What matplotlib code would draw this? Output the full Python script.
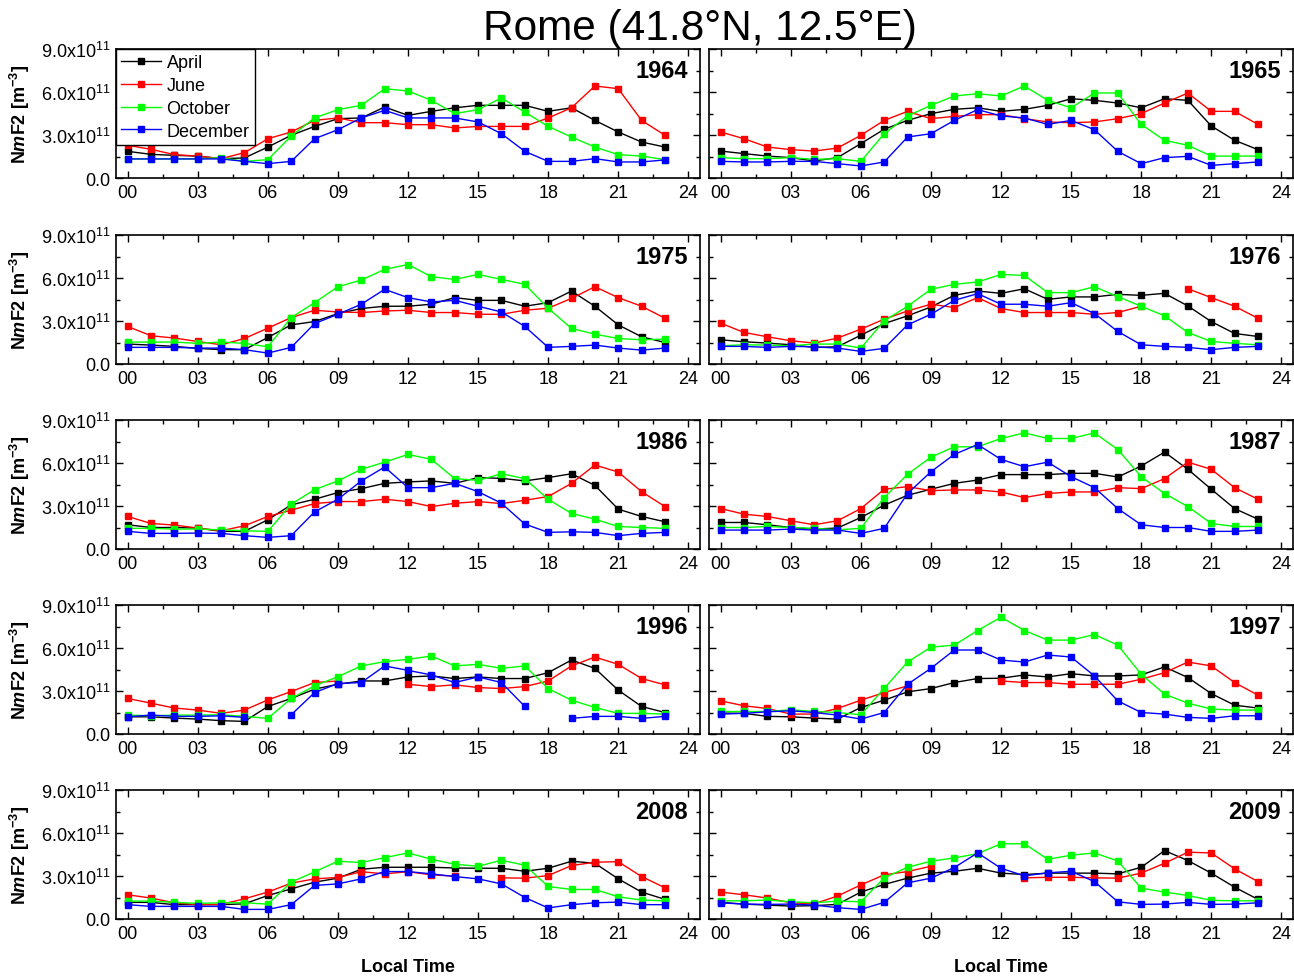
import numpy as np
import matplotlib
matplotlib.use('Agg')
import matplotlib.pyplot as plt
from matplotlib.ticker import MultipleLocator, FixedLocator

plt.rcParams['font.family'] = ['Liberation Sans', 'DejaVu Sans']
plt.rcParams['mathtext.fontset'] = 'custom'
plt.rcParams['mathtext.rm'] = 'Liberation Sans'
plt.rcParams['mathtext.it'] = 'Liberation Sans:italic:bold'
plt.rcParams['mathtext.bf'] = 'Liberation Sans:bold'

nan = np.nan
hours = np.arange(24)
months = ['April', 'June', 'October', 'December']
colors = ['black', '#ff0000', '#00ff00', '#0000ff']

# NmF2 in units of 1e11 m^-3, hourly 00..23 LT
apr_1964 = [1.86,1.65,1.58,1.53,1.35,1.40,2.16,2.98,3.60,4.14,4.19,4.95,4.37,4.65,4.90,5.07,5.07,5.07,4.65,4.90,4.02,3.21,2.51,2.16]
jun_1964 = [2.28,2.00,1.63,1.53,1.35,1.77,2.74,3.21,4.02,4.19,3.86,3.86,3.72,3.72,3.49,3.60,3.60,3.60,4.19,4.90,6.42,6.23,4.02,2.98]
oct_1964 = [1.33,1.33,1.33,1.33,1.42,1.16,1.28,2.93,4.19,4.77,5.07,6.23,6.07,5.42,4.49,4.77,5.58,4.60,3.60,2.86,2.16,1.63,1.53,1.28]
dec_1964 = [1.33,1.33,1.33,1.33,1.33,1.16,1.00,1.16,2.74,3.37,4.19,4.72,4.19,4.19,4.19,3.91,3.09,1.86,1.16,1.16,1.35,1.12,1.12,1.26]

apr_1965 = [1.88,1.70,1.53,1.42,1.19,1.42,2.40,3.40,4.02,4.49,4.79,4.90,4.65,4.79,5.07,5.53,5.42,5.23,4.90,5.53,5.42,3.63,2.63,1.98]
jun_1965 = [3.21,2.74,2.16,1.98,1.88,2.09,2.98,4.02,4.65,4.14,4.30,4.42,4.42,4.14,3.91,3.86,3.91,4.14,4.49,5.23,5.93,4.65,4.65,3.74]
oct_1965 = [1.42,1.35,1.35,1.42,1.30,1.35,1.16,3.09,4.33,5.07,5.72,5.88,5.72,6.42,5.42,4.90,5.93,5.93,3.74,2.63,2.28,1.53,1.53,1.53]
dec_1965 = [1.16,1.12,1.12,1.16,1.16,1.00,0.84,1.12,2.86,3.09,4.02,4.77,4.33,4.19,3.74,4.02,3.37,1.86,1.00,1.42,1.51,0.88,1.00,1.12]

apr_1975 = [1.39,1.32,1.23,1.09,1.00,1.00,1.85,2.73,2.96,3.52,3.87,4.03,4.03,4.17,4.63,4.44,4.44,4.03,4.28,5.09,4.03,2.73,1.90,1.50]
jun_1975 = [2.62,1.97,1.81,1.57,1.34,1.78,2.50,3.24,3.75,3.63,3.59,3.70,3.75,3.59,3.59,3.47,3.47,3.75,3.89,4.58,5.39,4.63,4.03,3.19]
oct_1975 = [1.53,1.53,1.53,1.44,1.53,1.44,1.20,3.24,4.28,5.39,5.86,6.60,6.94,6.09,5.90,6.25,5.90,5.56,3.89,2.48,2.08,1.78,1.69,1.74]
dec_1975 = [1.16,1.16,1.16,1.11,1.11,1.00,0.76,1.16,2.82,3.47,4.17,5.21,4.63,4.33,4.44,4.03,3.63,2.62,1.16,1.23,1.32,1.11,0.97,1.11]

apr_1976 = [1.69,1.55,1.46,1.34,1.16,1.20,2.01,2.82,3.36,3.98,4.79,5.09,4.93,5.25,4.51,4.68,4.68,4.86,4.79,4.93,4.05,2.96,2.13,1.92]
jun_1976 = [2.85,2.20,1.90,1.62,1.46,1.81,2.43,3.13,3.70,4.17,3.94,4.63,3.87,3.59,3.59,3.59,3.47,3.59,4.03,nan,5.25,4.63,4.03,3.19]
oct_1976 = [1.27,1.34,1.32,1.27,1.39,1.39,1.11,3.01,4.03,5.21,5.56,5.72,6.25,6.18,4.98,4.98,5.39,4.70,4.03,3.36,2.20,1.57,1.44,1.34]
dec_1976 = [1.23,1.23,1.16,1.23,1.20,1.11,0.88,1.09,2.73,3.47,4.44,4.91,4.17,4.17,4.03,4.28,3.52,2.27,1.34,1.23,1.16,1.00,1.16,1.23]

apr_1986 = [1.69,1.50,1.50,1.46,1.23,1.23,2.04,3.08,3.47,3.94,4.21,4.58,4.68,4.75,4.58,4.98,4.93,4.75,4.98,5.25,4.44,2.78,2.27,1.90]
jun_1986 = [2.27,1.78,1.67,1.46,1.27,1.62,2.27,2.71,3.17,3.31,3.31,3.47,3.31,2.96,3.19,3.31,3.17,3.40,3.66,4.58,5.86,5.37,4.00,2.96]
oct_1986 = [1.44,1.44,1.39,1.39,1.34,1.27,1.23,3.13,4.14,4.75,5.56,6.06,6.60,6.25,4.91,4.79,5.25,4.91,3.47,2.48,2.08,1.57,1.50,1.44]
dec_1986 = [1.23,1.09,1.09,1.11,1.09,0.93,0.81,0.93,2.59,3.47,4.75,5.72,4.28,4.28,4.58,4.00,3.19,1.74,1.16,1.20,1.16,0.93,1.09,1.16]

apr_1987 = [1.85,1.85,1.69,1.50,1.39,1.46,2.20,3.06,3.75,4.17,4.58,4.81,5.19,5.19,5.19,5.28,5.28,5.02,5.79,6.76,5.56,4.17,2.82,2.08]
jun_1987 = [2.82,2.43,2.27,1.97,1.69,1.97,2.82,4.17,4.35,4.07,4.12,4.12,3.98,3.59,3.87,3.98,3.98,4.28,4.21,4.91,6.06,5.56,4.28,3.47]
oct_1987 = [1.50,1.50,1.57,1.50,1.44,1.34,1.44,3.59,5.21,6.41,7.13,7.13,7.71,8.10,7.71,7.71,8.10,6.94,5.05,3.87,2.96,1.78,1.57,1.57]
dec_1987 = [1.32,1.32,1.32,1.39,1.32,1.32,1.09,1.44,3.87,5.39,6.60,7.29,6.25,5.74,6.06,5.05,4.28,2.82,1.69,1.50,1.50,1.23,1.23,1.32]

apr_1996 = [1.20,1.20,1.11,1.04,0.93,0.88,1.92,2.48,3.13,3.47,3.70,3.70,3.98,4.05,3.87,3.98,3.87,3.87,4.28,5.16,4.58,3.06,1.92,1.50]
jun_1996 = [2.48,2.15,1.81,1.67,1.44,1.67,2.38,2.96,3.59,3.70,nan,nan,3.47,3.31,3.43,3.24,3.17,3.31,3.70,4.75,5.37,4.86,3.87,3.43]
oct_1996 = [1.32,1.27,1.32,1.32,1.34,1.23,1.09,2.48,3.36,4.00,4.75,5.05,5.21,5.44,4.75,4.86,4.58,4.75,3.17,2.36,1.85,1.44,1.44,1.39]
dec_1996 = [1.20,1.32,1.23,1.23,1.27,1.16,nan,1.34,2.89,3.52,3.59,4.75,4.44,4.12,3.59,3.98,3.59,1.92,nan,1.09,1.23,1.23,1.09,1.23]

apr_1997 = [1.46,1.44,1.23,1.20,1.11,1.04,1.85,2.36,2.94,3.17,3.59,3.87,3.89,4.12,3.98,4.21,4.05,4.05,4.12,4.68,3.94,2.82,2.01,1.81]
jun_1997 = [2.31,1.97,1.78,1.39,1.39,1.78,2.36,2.89,3.36,nan,nan,nan,3.70,3.59,3.59,3.47,3.47,3.47,3.82,4.28,5.02,4.75,3.59,2.71]
oct_1997 = [1.57,1.57,1.57,1.69,1.57,1.50,1.34,3.19,5.02,6.06,6.20,7.22,8.15,7.22,6.55,6.55,6.94,6.20,4.17,2.78,2.15,1.74,1.67,1.67]
dec_1997 = [1.39,1.44,1.55,1.62,1.50,1.32,1.04,1.50,3.47,4.58,5.86,5.86,5.16,5.02,5.51,5.37,4.05,2.31,1.50,1.39,1.16,1.09,1.27,1.27]

apr_2008 = [1.16,1.16,1.00,1.00,1.00,1.06,1.64,2.10,2.57,2.85,3.47,3.61,3.61,3.61,3.56,3.54,3.54,3.33,3.54,4.03,3.89,2.80,1.88,1.37]
jun_2008 = [1.69,1.46,1.13,1.00,1.02,1.41,1.88,2.50,2.80,2.90,3.30,3.15,3.30,3.08,2.99,nan,2.87,2.85,3.03,3.73,3.96,4.00,2.96,2.18]
oct_2008 = [1.25,1.25,1.16,1.09,1.13,1.13,1.04,2.57,3.29,4.03,3.94,4.28,4.61,4.17,3.82,3.68,4.10,3.75,2.27,2.06,2.06,1.55,1.32,1.27]
dec_2008 = [1.00,0.88,0.88,0.88,0.88,0.67,0.67,1.00,2.34,2.45,2.80,3.31,3.31,3.15,2.96,2.80,2.45,1.50,0.77,1.00,1.13,1.18,1.00,1.00]

apr_2009 = [1.16,1.04,0.97,0.90,0.93,1.02,1.88,2.41,2.85,3.20,3.33,3.54,3.20,3.10,3.20,3.20,3.20,3.15,3.61,4.77,4.08,3.20,2.22,1.37]
jun_2009 = [1.88,1.69,1.46,1.13,1.06,1.60,2.38,3.08,3.31,3.68,nan,nan,nan,2.87,2.91,2.91,2.87,2.85,3.20,3.89,4.66,4.61,3.50,2.61]
oct_2009 = [1.27,1.27,1.32,1.20,1.13,1.25,1.20,2.87,3.61,4.03,4.26,4.56,5.25,5.25,4.17,4.45,4.61,4.05,2.15,1.88,1.64,1.30,1.27,1.27]
dec_2009 = [1.13,1.04,1.02,1.04,0.97,0.79,0.67,1.16,2.52,2.85,3.59,4.61,3.54,3.01,3.22,3.33,2.61,1.20,1.02,1.04,1.16,1.02,1.04,1.13]

years = ['1964', '1965', '1975', '1976', '1986', '1987', '1996', '1997', '2008', '2009']
panels = [
    [apr_1964, jun_1964, oct_1964, dec_1964],
    [apr_1965, jun_1965, oct_1965, dec_1965],
    [apr_1975, jun_1975, oct_1975, dec_1975],
    [apr_1976, jun_1976, oct_1976, dec_1976],
    [apr_1986, jun_1986, oct_1986, dec_1986],
    [apr_1987, jun_1987, oct_1987, dec_1987],
    [apr_1996, jun_1996, oct_1996, dec_1996],
    [apr_1997, jun_1997, oct_1997, dec_1997],
    [apr_2008, jun_2008, oct_2008, dec_2008],
    [apr_2009, jun_2009, oct_2009, dec_2009],
]

W, H = 1294, 978
fig = plt.figure(figsize=(W / 100, H / 100), dpi=100)

lefts = [116, 709]
tops = [50, 236, 421, 606, 791]
aw, ah = 584, 129

ytick_labels = ['0.0', r'3.0x10$^{11}$', r'6.0x10$^{11}$', r'9.0x10$^{11}$']

for i, year in enumerate(years):
    row, col = divmod(i, 2)
    ax = fig.add_axes([lefts[col] / W, 1 - (tops[row] + ah) / H, aw / W, ah / H])
    for k in range(4):
        vals = np.array(panels[i][k]) * 1e11
        ax.plot(hours, vals, '-s', color=colors[k], lw=1.0, ms=3.8,
                mec=colors[k], mfc=colors[k], label=months[k])
    ax.set_xlim(-0.5, 24.5)
    ax.set_ylim(0, 9e11)
    ax.xaxis.set_major_locator(FixedLocator(range(0, 25, 3)))
    ax.xaxis.set_minor_locator(MultipleLocator(1.5))
    ax.set_xticklabels(['%02d' % h for h in range(0, 25, 3)])
    ax.yaxis.set_major_locator(FixedLocator([0, 3e11, 6e11, 9e11]))
    ax.yaxis.set_minor_locator(MultipleLocator(1.5e11))
    if col == 0:
        ax.set_yticklabels(ytick_labels)
    else:
        ax.set_yticklabels([])
    ax.tick_params(which='both', direction='in', top=True, right=True,
                   labelsize=13, width=1.0)
    ax.tick_params(which='major', length=5, pad=4)
    ax.tick_params(which='minor', length=3)
    for sp in ax.spines.values():
        sp.set_linewidth(1.2)
    ax.text(0.979, 0.83, year, transform=ax.transAxes, ha='right', va='center',
            fontsize=17, fontweight='bold')
    if i == 0:
        leg = ax.legend(loc='upper left', borderaxespad=0, fontsize=13,
                        handlelength=2.2, labelspacing=0.32, handletextpad=0.3,
                        borderpad=0.3, fancybox=False, edgecolor='black',
                        framealpha=1)
        leg.get_frame().set_linewidth(1.0)
    if col == 0:
        fig.text(20 / W, 1 - (tops[row] + ah / 2) / H,
                 r'$\mathbf{N}\mathit{m}\mathbf{F2\ [m^{-3}]}$',
                 rotation=90, ha='center', va='center', fontsize=13)

fig.text((116 + aw / 2) / W, 1 - 968 / H, 'Local Time', ha='center', va='center',
         fontsize=13, fontweight='bold')
fig.text((709 + aw / 2) / W, 1 - 968 / H, 'Local Time', ha='center', va='center',
         fontsize=13, fontweight='bold')
fig.text(700 / W, 1 - 29 / H, 'Rome (41.8\u00b0N, 12.5\u00b0E)', ha='center',
         va='center', fontsize=30.5)

fig.savefig('out.png', dpi=100)
